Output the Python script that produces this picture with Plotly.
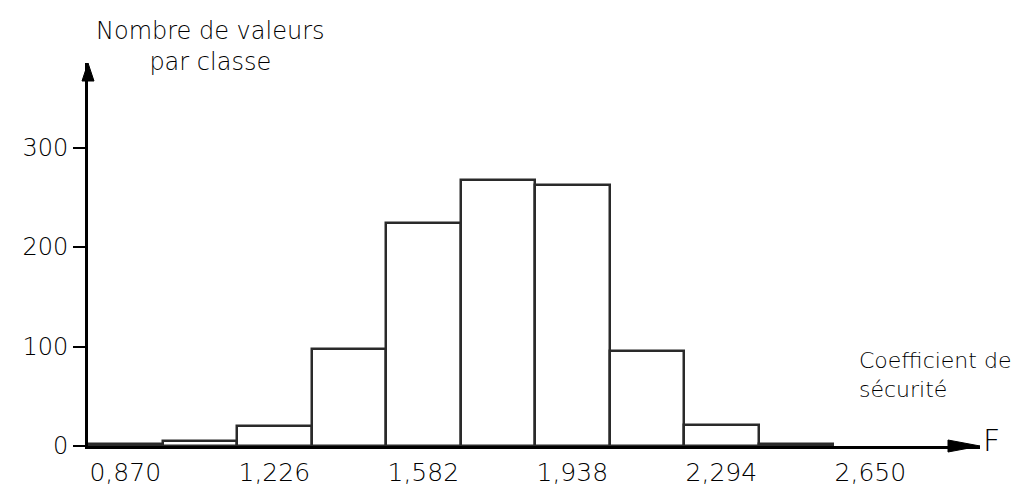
import plotly.graph_objects as go

# Class centres (coefficient de sécurité F) and counts per class
class_centers = [0.870, 1.048, 1.226, 1.404, 1.582, 1.760, 1.938, 2.116, 2.294, 2.472]
counts = [2, 5, 20, 98, 224, 267, 262, 96, 21, 2]
class_width = 0.178

x_tick_vals = [0.870, 1.226, 1.582, 1.938, 2.294, 2.650]
x_tick_text = ["0,870", "1,226", "1,582", "1,938", "2,294", "2,650"]
y_tick_vals = [0, 100, 200, 300]
y_tick_text = ["0", "100", "200", "300"]

FONT = "DejaVu Sans"
W = 200

fig = go.Figure()
fig.add_trace(go.Bar(
    x=class_centers, y=counts, width=class_width,
    marker=dict(color="white", line=dict(color="#2a2a2a", width=2.5)),
    showlegend=False, hoverinfo="x+y",
))

fig.update_layout(
    width=1035, height=491,
    margin=dict(l=80, r=63, t=55, b=36),
    paper_bgcolor="white", plot_bgcolor="white",
    font=dict(family=FONT, size=23, color="black", weight=W),
    bargap=0,
    xaxis=dict(
        range=[0.781, 2.912], showgrid=False, zeroline=False,
        showline=True, linecolor="black", linewidth=3,
        tickmode="array", tickvals=x_tick_vals, ticktext=x_tick_text,
        ticks="", ticklabelstandoff=2,
        tickfont=dict(family=FONT, size=25, color="black", weight=W),
    ),
    yaxis=dict(
        range=[0, 385], showgrid=False, zeroline=False,
        showline=True, linecolor="black", linewidth=3,
        tickmode="array", tickvals=y_tick_vals, ticktext=y_tick_text,
        ticks="outside", ticklen=12, tickwidth=2, tickcolor="black",
        tickfont=dict(family=FONT, size=24, color="black", weight=W),
    ),
    shapes=[
        # x-axis arrowhead
        dict(type="path", xref="paper", yref="paper",
             xsizemode="pixel", ysizemode="pixel", xanchor=1, yanchor=0,
             path="M 0,0 L -32,-6 L -32,6 Z",
             fillcolor="black", line=dict(color="black", width=1)),
        # y-axis arrowhead
        dict(type="path", xref="paper", yref="paper",
             xsizemode="pixel", ysizemode="pixel", xanchor=0, yanchor=1,
             path="M 0,0 L -6,-18 L 6,-18 Z",
             fillcolor="black", line=dict(color="black", width=1)),
    ],
    annotations=[
        dict(text="Nombre de valeurs<br>par classe", xref="paper", yref="paper",
             x=0.137, y=1.125, xanchor="center", yanchor="top", showarrow=False,
             align="center", font=dict(family=FONT, size=24, color="black", weight=W)),
        dict(text="Coefficient de<br>sécurité", xref="paper", yref="paper",
             x=0.862, y=0.26, xanchor="left", yanchor="top", showarrow=False,
             align="left", font=dict(family=FONT, size=22, color="black", weight=W)),
        dict(text="F", xref="paper", yref="paper",
             x=1.013, y=0.015, xanchor="center", yanchor="middle", showarrow=False,
             font=dict(family=FONT, size=30, color="black", weight=W)),
    ],
)

fig.write_html("out.html")
